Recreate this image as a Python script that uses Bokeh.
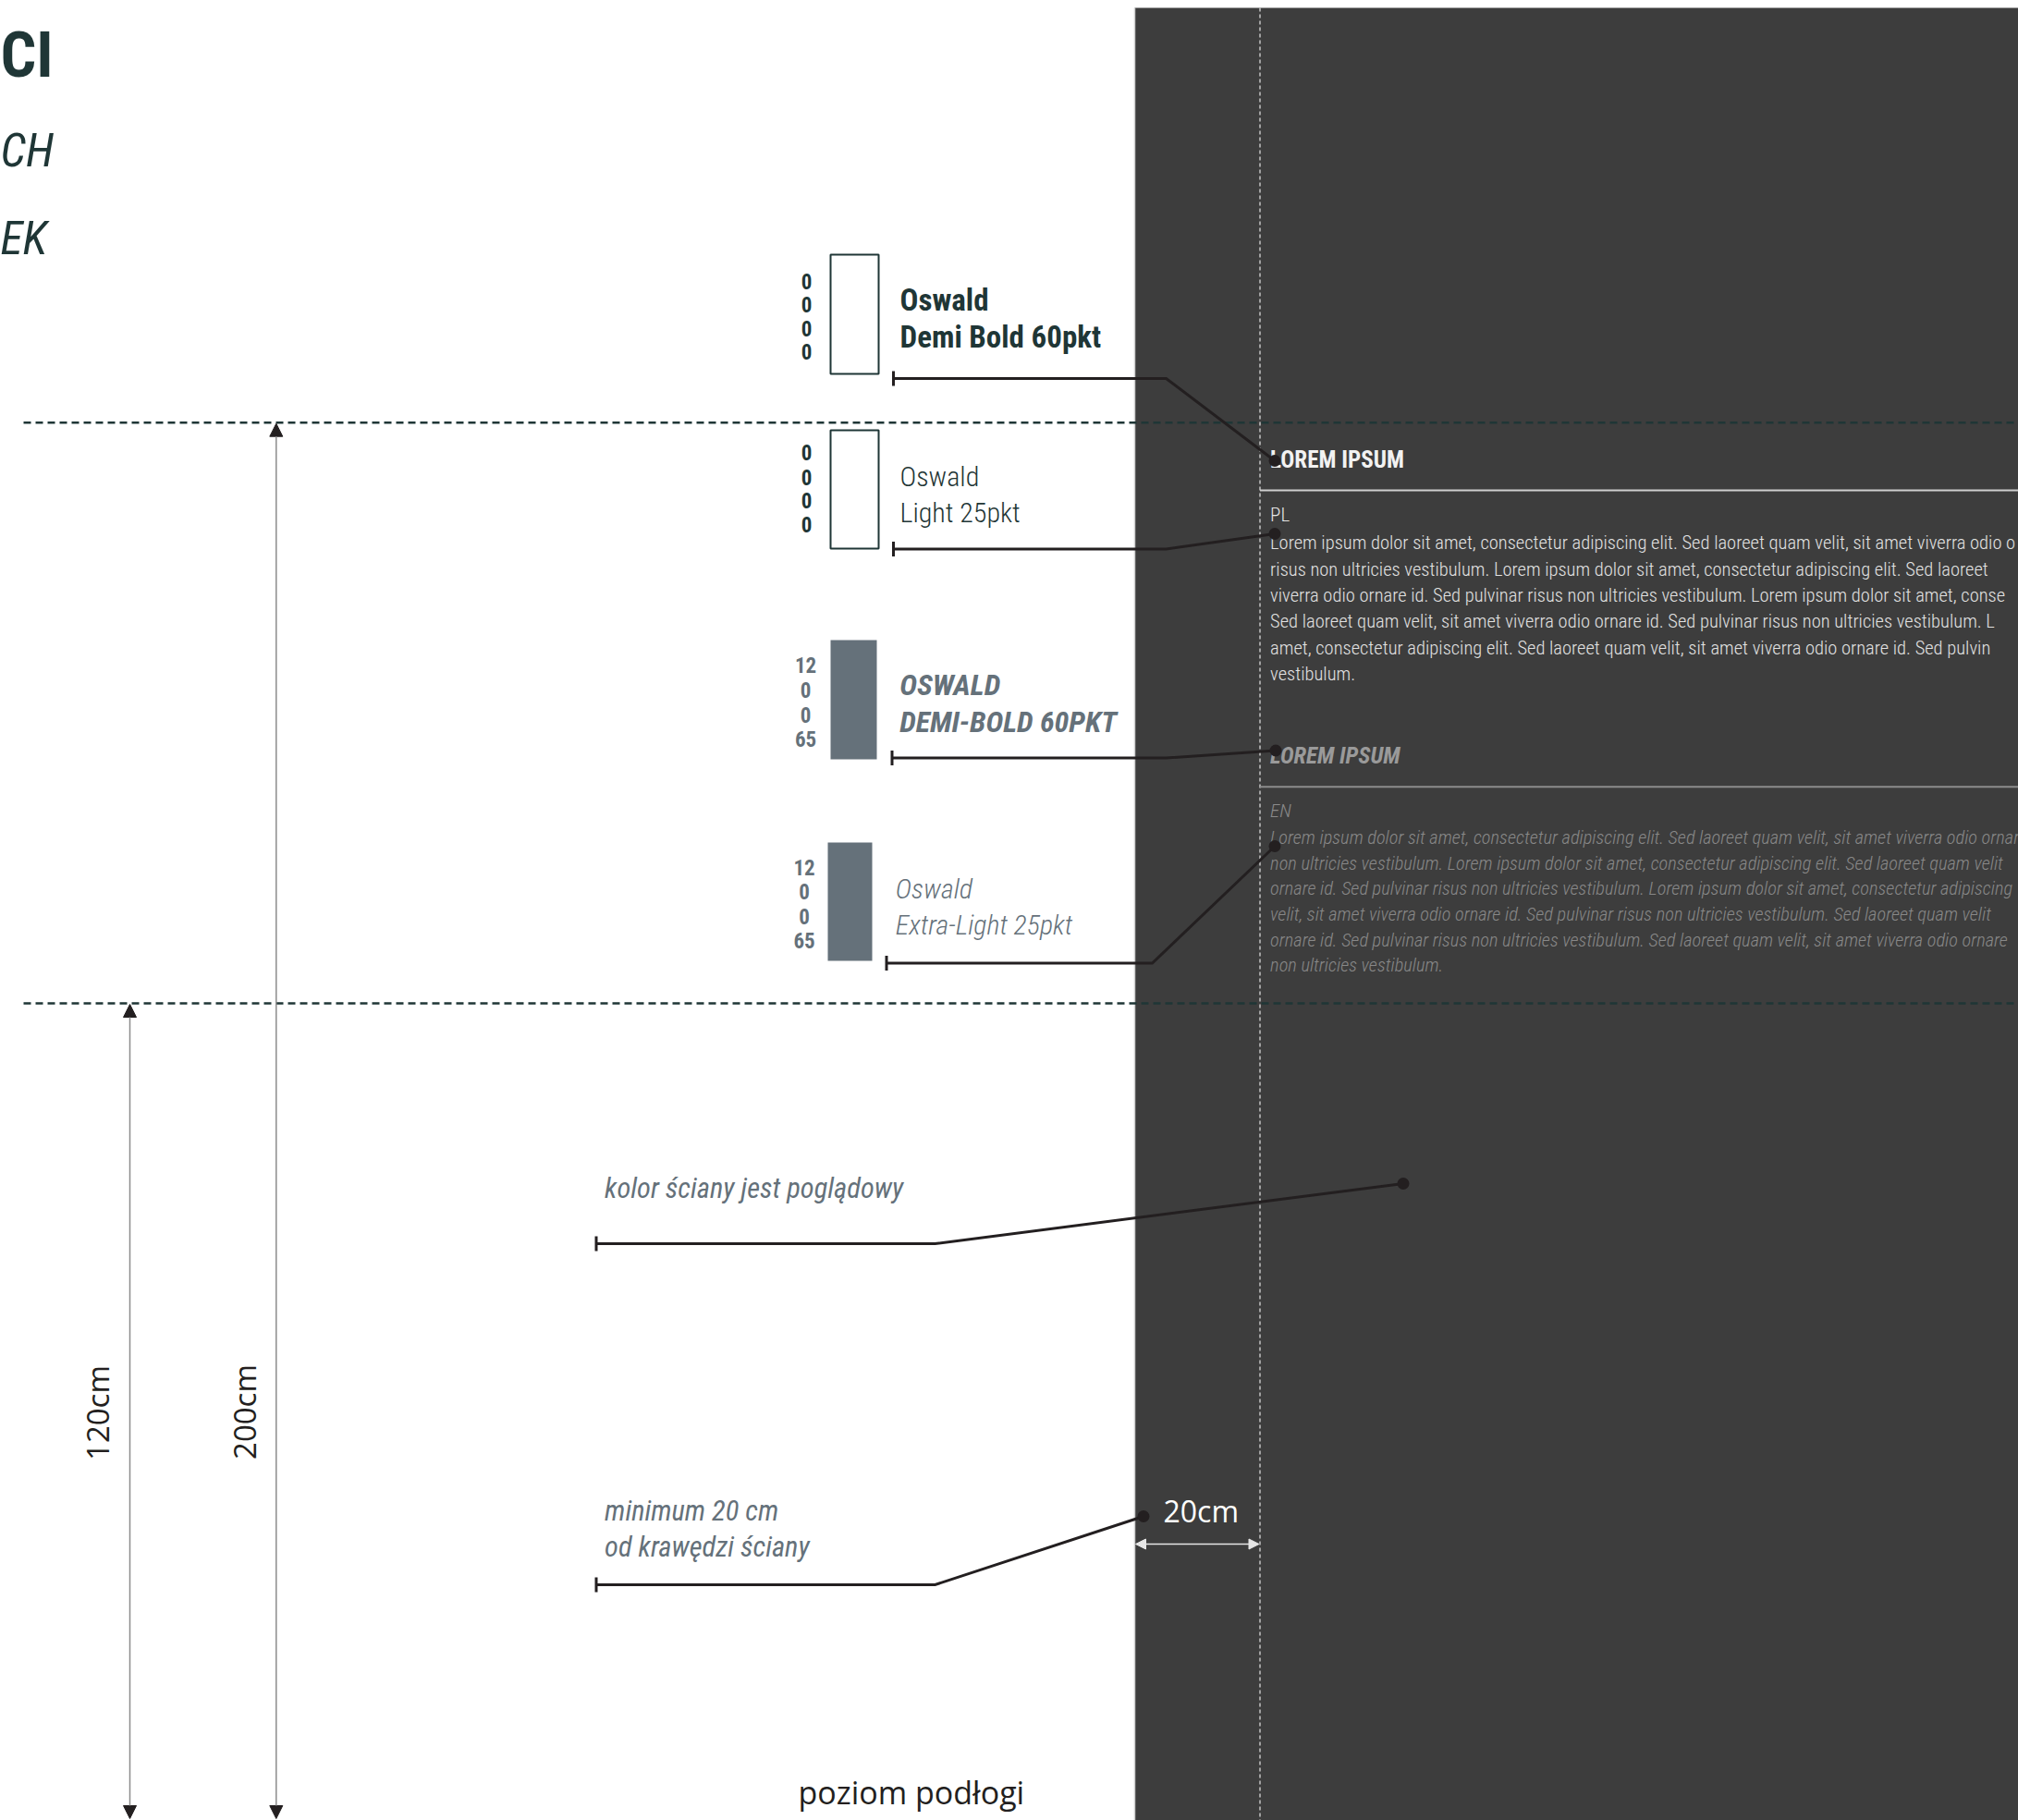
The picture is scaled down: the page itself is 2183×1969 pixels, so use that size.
from bokeh.plotting import figure
from bokeh.models import Arrow, NormalHead
from bokeh.core.properties import value
from bokeh.embed import file_html
from bokeh.resources import INLINE

# ---------------- content (texts / values) ----------------
title_fragments = ["CI", "CH", "EK"]
swatch_cmyk = [["0", "0", "0", "0"], ["0", "0", "0", "0"],
               ["12", "0", "0", "65"], ["12", "0", "0", "65"]]
swatch_name = ["Oswald", "Oswald", "OSWALD", "Oswald"]
swatch_spec = ["Demi Bold 60pkt", "Light 25pkt", "DEMI-BOLD 60PKT", "Extra-Light 25pkt"]
heading = "LOREM IPSUM"
lang_codes = ["PL", "EN"]
pl_lines = [
    "Lorem ipsum dolor sit amet, consectetur adipiscing elit. Sed laoreet quam velit, sit amet viverra odio o",
    "risus non ultricies vestibulum.  Lorem ipsum dolor sit amet, consectetur adipiscing elit. Sed laoreet",
    "viverra odio ornare id. Sed pulvinar risus non ultricies vestibulum. Lorem ipsum dolor sit amet, conse",
    "Sed laoreet quam velit, sit amet viverra odio ornare id. Sed pulvinar risus non ultricies vestibulum. L",
    "amet, consectetur adipiscing elit. Sed laoreet quam velit, sit amet viverra odio ornare id. Sed pulvin",
    "vestibulum.",
]
en_lines = [
    "Lorem ipsum dolor sit amet, consectetur adipiscing elit. Sed laoreet quam velit, sit amet viverra odio ornar",
    "non ultricies vestibulum. Lorem ipsum dolor sit amet, consectetur adipiscing elit. Sed laoreet quam velit",
    "ornare id. Sed pulvinar risus non ultricies vestibulum. Lorem ipsum dolor sit amet, consectetur adipiscing",
    "velit, sit amet viverra odio ornare id. Sed pulvinar risus non ultricies vestibulum. Sed laoreet quam velit",
    "ornare id. Sed pulvinar risus non ultricies vestibulum. Sed laoreet quam velit, sit amet viverra odio ornare",
    "non ultricies vestibulum.",
]
dimension_labels = ["120cm", "200cm"]
margin_label = "20cm"
note_wall = "kolor ściany jest poglądowy"
note_margin = ["minimum 20 cm", "od krawędzi ściany"]
floor_label = "poziom podłogi"

# ---------------- layout (pixel space of the drawing) ----------------
W, H = 2183, 1969
TEAL = "#1f3636"
GREY = "#65717a"
INK = "#231f20"
WALL = "#3d3d3d"

COND = "'Roboto Condensed', 'Liberation Sans Narrow', Roboto, sans-serif"
COND_LIGHT = "'Roboto Condensed Light', 'Roboto Condensed', 'Roboto Light', Roboto, sans-serif"
HUMAN = "'Open Sans', sans-serif"

K = 0.4  # baseline correction (fraction of font size)


def bl(y, size):
    """vertical position so that the text's baseline lands on y"""
    if isinstance(y, (list, tuple)):
        return [v - K * size for v in y]
    return [y - K * size]


p = figure(width=W, height=H, x_range=(0, W), y_range=(H, 0),
           toolbar_location=None, output_backend="svg", min_border=0,
           x_axis_location=None, y_axis_location=None)
p.grid.visible = False
p.outline_line_color = None
p.background_fill_color = "white"
p.border_fill_color = "white"

wall_x, wall_dash_x = 1227, 1362.5
dash1_y, dash2_y = 456.7, 1085

# wall
p.quad(left=[wall_x], right=[W + 50], top=[8], bottom=[H + 50], fill_color=WALL, line_color=None)
p.segment(x0=[wall_x], y0=[8], x1=[wall_x], y1=[H + 50], line_color="#cfcfcf", line_width=1.5)
p.segment(x0=[wall_dash_x], y0=[8], x1=[wall_dash_x], y1=[H + 50], line_color="#c4c4c4",
          line_width=1.5, line_dash="4 3")

# rules under headings
p.segment(x0=[wall_dash_x, wall_dash_x], y0=[530, 850.7], x1=[W + 50, W + 50], y1=[530, 850.7],
          line_color=["#cfcfcf", "#8c8c8c"], line_width=2)

# wall texts
text_x = 1373.6
p.text(x=[text_x], y=bl(506.7, 25), text=[heading], text_font=value(COND), text_font_style="bold",
       text_font_size="25px", text_color="#f2f2f2", text_baseline="alphabetic")
p.text(x=[text_x], y=bl(565, 21), text=[lang_codes[0]], text_font=value(COND_LIGHT),
       text_font_size="21px", text_color="#e6e6e6", text_baseline="alphabetic")
pl_y = [595, 623.3, 651.7, 680, 708.3, 736.7]
p.text(x=[text_x] * len(pl_lines), y=bl(pl_y, 20.5), text=pl_lines, text_font=value(COND_LIGHT),
       text_font_size="20.5px", text_color="#e2e2e2", text_baseline="alphabetic")

p.text(x=[text_x], y=bl(826.7, 25), text=[heading], text_font=value(COND), text_font_style="bold italic",
       text_font_size="25px", text_color="#9a9a9a", text_baseline="alphabetic")
p.text(x=[text_x], y=bl(885, 21), text=[lang_codes[1]], text_font=value(COND_LIGHT), text_font_style="italic",
       text_font_size="21px", text_color="#8a8a8a", text_baseline="alphabetic")
en_y = [913.3, 941.7, 968.3, 996.7, 1025, 1051.7]
p.text(x=[text_x] * len(en_lines), y=bl(en_y, 20.4), text=en_lines, text_font=value(COND_LIGHT),
       text_font_style="italic", text_font_size="20.4px", text_color="#888888", text_baseline="alphabetic")

# horizontal dashed level lines
p.segment(x0=[25, 25], y0=[dash1_y, dash2_y], x1=[W + 50, W + 50], y1=[dash1_y, dash2_y],
          line_color=TEAL, line_width=2.5, line_dash="8 5")

# title fragments (at the left edge)
p.text(x=[0], y=bl(87, 68), text=[title_fragments[0]], text_font=value(COND), text_font_style="bold",
       text_font_size="68px", text_color=TEAL, text_align="left", text_baseline="alphabetic")
p.text(x=[0, 0], y=bl([182, 277], 50), text=title_fragments[1:], text_font=value(COND),
       text_font_style="italic", text_font_size="50px", text_color=TEAL, text_align="left",
       text_baseline="alphabetic")

# swatches
sw_left = [898, 898, 898, 895]
sw_right = [950, 950, 948, 943]
sw_top = [275, 465, 692, 911]
sw_bottom = [404, 593, 821, 1039]
p.quad(left=sw_left[:2], right=sw_right[:2], top=sw_top[:2], bottom=sw_bottom[:2],
       fill_color="white", line_color=TEAL, line_width=2)
p.quad(left=sw_left[2:], right=sw_right[2:], top=sw_top[2:], bottom=sw_bottom[2:],
       fill_color=GREY, line_color=None)

num_x = [872, 872, 871, 869.5]
num_base = [[313, 338.5, 364.5, 389.5], [498, 524.7, 549.7, 576.3],
            [728.5, 755.5, 782, 808], [947.5, 973.5, 1000, 1026]]
num_col = [TEAL, TEAL, GREY, GREY]
for i in range(4):
    p.text(x=[num_x[i]] * 4, y=bl(num_base[i], 23), text=swatch_cmyk[i], text_font=value(COND),
           text_font_style="bold", text_font_size="23px", text_color=num_col[i],
           text_align="center", text_baseline="alphabetic")

lab_x = [973, 973, 972.7, 968.3]
lab_y1 = [337, 526.7, 753.3, 973.3]
lab_y2 = [377, 566, 793.3, 1011.7]
lab_font = [COND, COND_LIGHT, COND, COND_LIGHT]
lab_style = ["bold", "normal", "bold italic", "italic"]
lab_size = [33, 30, 32, 30]
lab_col = [TEAL, TEAL, GREY, GREY]
for i in range(4):
    p.text(x=[lab_x[i]] * 2, y=bl([lab_y1[i], lab_y2[i]], lab_size[i]),
           text=[swatch_name[i], swatch_spec[i]],
           text_font=value(lab_font[i]), text_font_style=lab_style[i],
           text_font_size=f"{lab_size[i]}px", text_color=lab_col[i], text_baseline="alphabetic")

# notes
p.text(x=[653.6], y=bl(1297, 30.5), text=[note_wall], text_font=value(COND), text_font_style="italic",
       text_font_size="30.5px", text_color=GREY, text_baseline="alphabetic")
p.text(x=[653.6, 653.6], y=bl([1646, 1685], 30.5), text=note_margin, text_font=value(COND),
       text_font_style="italic", text_font_size="30.5px", text_color=GREY, text_baseline="alphabetic")

# leader lines
lead_xs = [[966, 1261, 1378.5], [966, 1261, 1378.5], [964.5, 1261, 1379.5],
           [958.5, 1246, 1378.5], [644.5, 1011, 1517.5], [644.5, 1011, 1236.5]]
lead_ys = [[409, 409, 498], [593.5, 593.5, 577], [819.5, 819.5, 811.5],
           [1041.5, 1041.5, 915], [1345, 1345, 1280], [1714, 1714, 1640]]
p.multi_line(xs=lead_xs, ys=lead_ys, line_color=INK, line_width=3, line_join="miter")
p.segment(x0=[xs[0] for xs in lead_xs], y0=[ys[0] - 8 for ys in lead_ys],
          x1=[xs[0] for xs in lead_xs], y1=[ys[0] + 8 for ys in lead_ys],
          line_color=INK, line_width=3)
p.scatter(x=[xs[-1] for xs in lead_xs], y=[ys[-1] for ys in lead_ys], size=13,
          fill_color=INK, line_color=None)

# 20cm margin dimension
p.text(x=[1258], y=bl(1646.7, 32), text=[margin_label], text_font=value(HUMAN), text_font_size="32px",
       text_color="white", text_baseline="alphabetic")
p.add_layout(Arrow(x_start=wall_x + 1, y_start=1670, x_end=wall_dash_x - 1, y_end=1670,
                   line_color="#e6e6e6", line_width=1.5,
                   start=NormalHead(size=11, fill_color="#e6e6e6", line_color="#e6e6e6"),
                   end=NormalHead(size=11, fill_color="#e6e6e6", line_color="#e6e6e6")))

# vertical height dimensions
arr_x = [140, 298.3]
arr_top = [dash2_y, dash1_y]
for i in range(2):
    p.add_layout(Arrow(x_start=arr_x[i], y_start=arr_top[i] + 1, x_end=arr_x[i], y_end=H - 2,
                       line_color="#8c8c8c", line_width=1.5,
                       start=NormalHead(size=14, fill_color=INK, line_color=INK, line_width=1),
                       end=NormalHead(size=14, fill_color=INK, line_color=INK, line_width=1)))
p.text(x=[118 - K * 33, 277 - K * 33], y=[1528, 1527], text=dimension_labels, angle=1.5707963,
       text_font=value(HUMAN), text_font_size="33px", text_color="#231f20",
       text_align="center", text_baseline="alphabetic")

# floor label
p.text(x=[863], y=bl(1952, 34), text=[floor_label], text_font=value(HUMAN), text_font_size="34px",
       text_color="#231f20", text_baseline="alphabetic")

open("out.html", "w").write(file_html(p, INLINE))
